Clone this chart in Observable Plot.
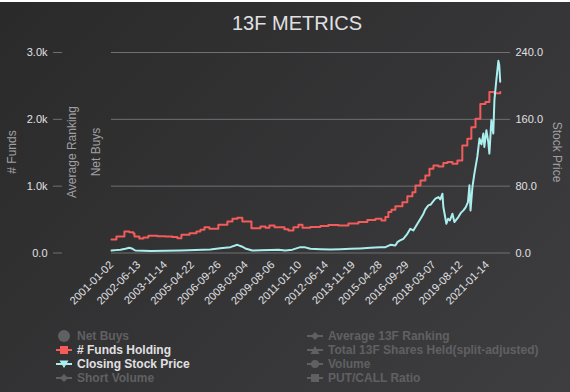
<!DOCTYPE html>
<html><head><meta charset="utf-8">
<script src="https://cdn.jsdelivr.net/npm/d3@7"></script>
<script src="https://cdn.jsdelivr.net/npm/@observablehq/plot@0.6"></script>
<style>
html,body{margin:0;padding:0;}
body{width:570px;height:392px;overflow:hidden;background:#fff;font-family:"Liberation Sans",Arial,sans-serif;}
#wrap{position:relative;margin-top:2px;width:570px;height:390px;background:linear-gradient(135deg,#2a2a2b,#3e3e40);}
#title{height:38px;box-sizing:border-box;padding-top:9px;padding-left:24px;text-align:center;font-size:20px;line-height:24px;color:#E0E0E3;font-family:"Liberation Sans",Arial,sans-serif;font-weight:normal;}
#chart svg{display:block;}
#legend{position:relative;height:70px;font-weight:bold;font-size:12px;}
.col{position:absolute;top:9px;}
.item{height:14px;line-height:14px;white-space:nowrap;display:flex;align-items:center;}
.item svg{width:16px;height:14px;margin-right:5px;flex:none;}
.on{color:#E0E0E3;}
.off{color:#606063;}
</style></head>
<body><div id="wrap">
<div id="title">13F METRICS</div>
<div id="chart"></div>
<div id="legend"></div>
</div>
<script>
// # Funds Holding (quarterly, step)
const fundDates = ["2001-01-02","2001-04-08","2001-09-10","2001-12-15","2002-03-03","2002-03-25","2002-06-28","2002-09-16","2002-12-20","2003-06-12","2003-11-17","2004-04-01","2004-07-08","2004-09-24","2005-03-01","2005-07-13","2005-09-28","2005-12-16","2006-03-22","2006-09-13","2007-03-08","2007-06-15","2007-09-17","2007-12-24","2008-06-18","2008-12-10","2009-03-18","2009-06-03","2009-09-10","2010-03-22","2010-06-07","2010-09-13","2010-12-20","2011-03-08","2011-08-08","2012-02-20","2012-07-24","2013-02-08","2013-08-18","2014-02-28","2014-08-22","2015-01-27","2015-05-23","2015-08-08","2015-10-05","2015-12-03","2016-02-18","2016-07-05","2016-10-08","2017-01-15","2017-03-15","2017-06-21","2017-09-24","2017-12-13","2018-02-28","2018-06-06","2018-09-09","2018-11-28","2019-03-04","2019-06-10","2019-09-13","2019-12-20","2020-03-07","2020-05-27","2020-08-29","2020-12-06","2021-02-21","2021-05-30","2021-09-20"];
const fundValues = [202,247,322,311,292,247,217,232,257,252,247,240,222,272,297,322,347,387,362,422,471,512,527,471,372,397,377,412,387,357,337,387,422,377,390,405,420,412,440,465,495,512,487,537,612,647,700,760,850,910,1010,1085,1160,1260,1310,1295,1345,1360,1335,1385,1610,1710,1880,2010,2230,2260,2410,2390,2410];

// Closing Stock Price
const priceDates = ["2001-01-02","2001-04-10","2001-06-25","2001-10-01","2001-12-15","2002-02-15","2002-04-10","2003-01-30","2003-11-17","2004-09-05","2005-06-25","2006-04-10","2006-10-20","2007-05-05","2007-09-17","2007-12-24","2008-02-20","2008-07-05","2008-12-10","2009-06-20","2009-11-25","2010-04-08","2010-08-25","2011-01-25","2011-04-12","2011-08-08","2012-02-20","2012-09-01","2013-03-15","2013-09-28","2014-04-08","2014-10-20","2015-05-01","2015-08-08","2015-11-15","2016-02-18","2016-03-28","2016-05-20","2016-07-22","2016-10-08","2016-12-05","2017-02-02","2017-04-22","2017-06-21","2017-07-20","2017-08-18","2017-09-20","2017-11-20","2018-01-05","2018-02-10","2018-03-10","2018-04-08","2018-06-06","2018-07-10","2018-08-22","2018-09-09","2018-11-07","2018-12-10","2019-01-15","2019-03-04","2019-04-12","2019-05-20","2019-06-28","2019-08-15","2019-10-05","2019-11-20","2020-01-01","2020-01-30","2020-02-20","2020-03-28","2020-05-05","2020-07-01","2020-08-12","2020-09-20","2020-10-27","2020-11-15","2020-12-25","2021-01-30","2021-02-21","2021-04-01","2021-05-08","2021-05-30","2021-07-05","2021-08-15","2021-09-01","2021-09-20"];
const priceValues = [3,3.5,4,5,6.2,5,3,2.4,2.6,3,3.5,4.2,5.8,7,9.8,7.5,5.4,3,3.2,3.6,4,3,4,7,7,5,4.5,4.2,4.5,5,5.5,6.2,6.8,7,9.8,9,13,15,17,23,29,27,35,41,44,47,52,57,58,61,63,65,67,64,71,55,35,41,39,47,37,40,43,48,51,55,61,81,51,79,95,115,137,130,143,127,147,133,119,159,143,183,206,230,225,205];

const tickLabels = ["2001-01-02","2002-06-13","2003-11-14","2005-04-22","2006-09-26","2008-03-04","2009-08-06","2011-01-10","2012-06-14","2013-11-19","2015-04-28","2016-09-29","2018-03-07","2019-08-12","2021-01-14"];
const fundTicks = [0, 1000, 2000, 3000];
const priceMax = 240, fundMax = 3000;
const ratio = fundMax / priceMax;

const legendLeft = [
  {name:"Net Buys", on:false, sym:"circle"},
  {name:"# Funds Holding", on:true, sym:"square", color:"#f45b5b"},
  {name:"Closing Stock Price", on:true, sym:"triangle-down", color:"#aaeeee"},
  {name:"Short Volume", on:false, sym:"diamond"}
];
const legendRight = [
  {name:"Average 13F Ranking", on:false, sym:"diamond"},
  {name:"Total 13F Shares Held(split-adjusted)", on:false, sym:"triangle"},
  {name:"Volume", on:false, sym:"circle"},
  {name:"PUT/CALL Ratio", on:false, sym:"square"}
];

const parse = d3.utcParse("%Y-%m-%d");
const funds = fundDates.map((d,i)=>({date:parse(d), v:fundValues[i]}));
const prices = priceDates.map((d,i)=>({date:parse(d), v:priceValues[i]}));
const ticks = tickLabels.map(parse);

const fmtLeft = d => d === 0 ? "0.0" : (d/1000).toFixed(1) + "k";
const fmtRight = d => (d/ratio).toFixed(1);

const plot = Plot.plot({
  width: 570, height: 280,
  marginTop: 12, marginBottom: 67.5, marginLeft: 111, marginRight: 60,
  style: {background:"transparent", fontSize:"11px", fontFamily:"Liberation Sans, Arial, sans-serif", color:"#E0E0E3"},
  x: {type:"utc", domain:[parse("2001-01-02"), parse("2022-04-08")]},
  y: {domain:[0, fundMax]},
  marks: [
    Plot.gridY(fundTicks, {stroke:"#707073", strokeOpacity:1, strokeWidth:1}),
    Plot.axisY(fundTicks, {anchor:"left", tickSize:9, tickPadding:6, dx:-49, tickFormat:fmtLeft, stroke:"#707073", fill:"#E0E0E3", label:null}),
    Plot.axisY(fundTicks, {anchor:"right", tickSize:0, tickPadding:5, tickFormat:fmtRight, fill:"#E0E0E3", label:null}),
    Plot.axisX(ticks, {tickSize:0, tickPadding:10, tickRotate:-45, tickFormat:d3.utcFormat("%Y-%m-%d"), fill:"#E0E0E3", label:null}),
    Plot.line(funds, {x:"date", y:"v", curve:"step-after", stroke:"#f45b5b", strokeWidth:2}),
    Plot.line(prices, {x:"date", y:d => d.v * ratio, stroke:"#aaeeee", strokeWidth:2})
  ]
});
document.getElementById("chart").appendChild(plot);

// axis titles
const svg = d3.select(plot);
const titles = [
  {t:"# Funds", x:13, r:-90},
  {t:"Average Ranking", x:73, r:-90},
  {t:"Net Buys", x:97, r:-90},
  {t:"Stock Price", x:556, r:90}
];
titles.forEach(o=>{
  svg.append("text").attr("transform",`translate(${o.x},112) rotate(${o.r})`)
    .attr("text-anchor","middle").attr("dominant-baseline","middle")
    .attr("fill","#A0A0A3").style("font-size","12px").style("font-family","Liberation Sans, Arial, sans-serif")
    .text(o.t);
});

// legend
function symbol(it){
  const c = it.on ? it.color : "#606063";
  let s = `<svg viewBox="0 0 16 14">`;
  if (it.name !== "Net Buys") s += `<line x1="0" x2="16" y1="7" y2="7" stroke="${c}" stroke-width="2"/>`;
  if (it.sym === "circle") s += `<circle cx="8" cy="7" r="${it.name==="Net Buys"?6:4}" fill="${c}"/>`;
  if (it.sym === "square") s += `<rect x="4" y="3" width="8" height="8" fill="${c}"/>`;
  if (it.sym === "triangle-down") s += `<path d="M3.5,3.5 L12.5,3.5 L8,11 Z" fill="${c}"/>`;
  if (it.sym === "triangle") s += `<path d="M3.5,11 L12.5,11 L8,3 Z" fill="${c}"/>`;
  if (it.sym === "diamond") s += `<path d="M8,3 L12,7 L8,11 L4,7 Z" fill="${c}"/>`;
  return s + `</svg>`;
}
const leg = document.getElementById("legend");
[[legendLeft,56],[legendRight,307]].forEach(([items,x])=>{
  const col = document.createElement("div");
  col.className = "col"; col.style.left = x + "px";
  col.innerHTML = items.map(it=>`<div class="item ${it.on?"on":"off"}">${symbol(it)}<span>${it.name}</span></div>`).join("");
  leg.appendChild(col);
});
</script>
</body></html>
